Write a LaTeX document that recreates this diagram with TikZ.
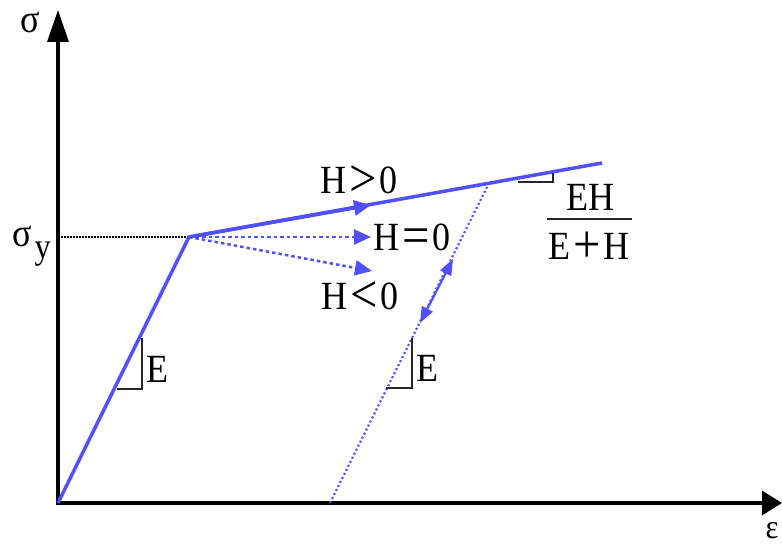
\documentclass[tikz,border=0pt]{standalone}
\usepackage{fontspec}
\usepackage{graphicx}
\setmainfont{Liberation Serif}
\newfontfamily\narrowserif{Liberation Serif}[FakeStretch=0.9]
\newcommand{\bigrel}[1]{\kern3pt\raisebox{-3pt}{\scalebox{1.35}{#1}}\kern3pt}
\usetikzlibrary{arrows.meta}
\definecolor{curveblue}{RGB}{80,80,255}
\begin{document}
\begin{tikzpicture}[x=1pt,y=-1pt,
  axisline/.style={line width=3.5pt,{Triangle[length=32pt,width=21pt]}-{Triangle[length=20pt,width=24pt]}},
  curve/.style={curveblue,line width=3.5pt},
  tip/.style={-{Triangle[length=17pt,width=15pt]}},
  dashcurve/.style={curveblue,line width=2.5pt,dash pattern=on 3.5pt off 3pt},
  dotcurve/.style={curveblue,line width=2.2pt,dash pattern=on 2pt off 2.5pt},
  slope/.style={black!85,line width=1.6pt},
  lbl/.style={font=\narrowserif\fontsize{40}{44}\selectfont,inner sep=0pt},
  sml/.style={font=\narrowserif\fontsize{34}{38}\selectfont,inner sep=0pt}]
\useasboundingbox (0,0) rectangle (782,545);
% axes
\coordinate (O) at (58,503);
\coordinate (ytip) at (58,10);
\coordinate (xtip) at (782,503);
\draw[axisline] (ytip) -- (O) -- (xtip);
\node[lbl] (sig) at (30,22) {σ};
\node[sml] (eps) at (772,531) {ε};
% key points
\coordinate (Y) at (189,237);
\coordinate (Hend) at (602,163);
\coordinate (Hmid) at (371,205);
\coordinate (Zero) at (371,237);
\coordinate (Neg) at (372,271);
\coordinate (Ybase) at (58,237);
\coordinate (U0) at (330,503);
\coordinate (U1) at (489,183);
\coordinate (Da) at (420,323);
\coordinate (Db) at (453,259);
% yield level
\draw[black,line width=1.3pt,dash pattern=on 1.5pt off 1.5pt] (Ybase) -- (Y);
\node[lbl,anchor=base west] (sigy) at (12,247) {σ\kern3pt\raisebox{-0.65ex}{\fontsize{36}{38}\selectfont y}};
% elastic and hardening
\draw[curve,line join=miter] (O) -- (Y) -- (Hend);
\draw[curve,tip] (Y) -- (Hmid);
\draw[dashcurve,tip] (Y) -- (Zero);
\draw[dashcurve,tip] (Y) -- (Neg);
\node[lbl] (hpos) at (359,181) {H\bigrel{>}0};
\node[lbl] (hzero) at (412,239) {H\bigrel{=}0};
\node[lbl] (hneg) at (360,297) {H\bigrel{<}0};
% unloading
\draw[dotcurve] (U0) -- (U1);
\draw[curveblue,line width=2.2pt,{Triangle[length=16pt,width=12pt]}-{Triangle[length=16pt,width=12pt]}] (Da) -- (Db);
% slope triangles
\coordinate (t1a) at (117,389);
\coordinate (t1b) at (142,389);
\coordinate (t1c) at (142,338);
\draw[slope] (t1a) -- (t1b) -- (t1c);
\node[lbl] (e1) at (157,369) {E};
\coordinate (t2a) at (386,388);
\coordinate (t2b) at (412,388);
\coordinate (t2c) at (412,338);
\draw[slope] (t2a) -- (t2b) -- (t2c);
\node[lbl] (e2) at (427,368) {E};
\coordinate (t3a) at (518,182);
\coordinate (t3b) at (553,182);
\coordinate (t3c) at (553,173);
\draw[slope] (t3a) -- (t3b) -- (t3c);
% fraction
\node[lbl] (num) at (590,197) {EH};
\coordinate (barL) at (547,219);
\coordinate (barR) at (632,219);
\draw[black!85,line width=1.6pt] (barL) -- (barR);
\node[lbl] (den) at (589,247) {E\bigrel{+}H};
\end{tikzpicture}
\end{document}
